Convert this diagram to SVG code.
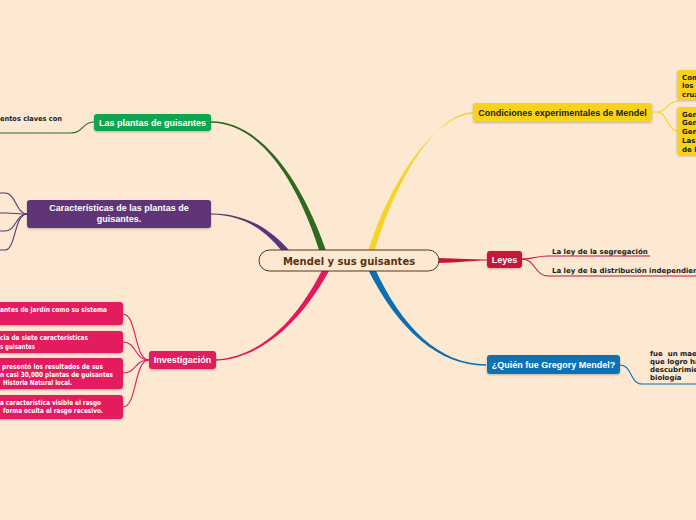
<svg xmlns="http://www.w3.org/2000/svg" width="696" height="520" viewBox="0 0 696 520">
<defs>
<filter id="sh" x="-10%" y="-20%" width="120%" height="160%"><feDropShadow dx="0" dy="1" stdDeviation="0.8" flood-color="#000" flood-opacity="0.25"/></filter>
<style>
.bg{fill:#fde8d1}
.node{filter:url(#sh)}
.lbl{font-family:"Liberation Sans",Arial,sans-serif;font-weight:bold;font-size:9px;fill:#fff;text-anchor:middle}
.dk{fill:#1c1c1c}
.sub{font-family:"DejaVu Sans",Verdana,sans-serif;font-weight:bold;font-size:7px;fill:#1a1a1a;white-space:pre}
.wt{fill:#fff}
.thin{fill:none;stroke-width:1.1}
</style>
</defs>
<rect class="bg" x="0" y="0" width="696" height="520"/>
<g id="connectors">
<path d="M211,121.3 C260,121 302,179 328,256 L321,256 C298,181 260,123 211,122.7 Z" fill="#2d6a1f"/>
<path d="M211,213.4 C245,213 272,228.8 293,255 L287,258 C268,231.2 245,215 211,214.6 Z" fill="#5c3477"/>
<path d="M216,359.3 C262,357 300,317 325,264 L331,267 C304,319 262,359 216,360.7 Z" fill="#e2195c"/>
<path d="M473,112.3 C440,112 397,172 373,257 L367,255 C393,171 440,114 473,113.7 Z" fill="#f6d327"/>
<path d="M486,364.3 C440,364 402,329 373,264.5 L367,267.5 C398,331 440,366 486,365.7 Z" fill="#0b6fb0"/>
<path d="M436,258 C460,258.5 475,259.5 487,259.5 L487,260.5 C475,260.5 460,262.5 436,263 Z" fill="#c8143a"/>
<path class="thin" stroke="#2d6a1f" d="M94,122 C82,122 84,133 70,133 L0,133"/>
<g class="thin" stroke="#5c3477">
<path d="M27,214 C16,214 16,193 5,193 L0,193"/>
<path d="M27,214 C16,214 16,213 5,213 L0,213"/>
<path d="M27,214 C16,214 16,231 5,231 L0,231"/>
<path d="M27,214 C14,214 16,250 5,250 L0,250"/>
</g>
<g class="thin" stroke="#e2195c">
<path d="M149,360 C134,360 137,314 123,314"/>
<path d="M149,360 C134,360 137,342 123,342"/>
<path d="M149,360 C134,360 137,373 123,373"/>
<path d="M149,360 C134,360 137,407 123,407"/>
</g>
<g class="thin" stroke="#f6d327">
<path d="M652,112 L657,112 C667,112 667,101 679,101"/>
<path d="M657,112 C667,112 667,131 679,131"/>
</g>
<g class="thin" stroke="#c8143a">
<path d="M522,259 C535,259 535,256 548,256 L650,256"/>
<path d="M522,259 C535,259 535,276 548,276 L696,276"/>
</g>
<path class="thin" stroke="#0b6fb0" d="M620,365 C632,365 630,384 642,384 L696,384"/>
</g>
<g id="center">
<rect x="259" y="250" width="180" height="21" rx="10.5" fill="#fde8d1" stroke="#5a3210" stroke-width="1"/>
<text x="349" y="264.5" font-family="DejaVu Sans, Verdana, sans-serif" font-weight="bold" font-size="10" fill="#5a3210" text-anchor="middle">Mendel y sus guisantes</text>
</g>
<g id="plantas">
<rect class="node" x="94" y="114" width="117" height="17" rx="3" fill="#08a54f"/>
<text class="lbl" x="152.5" y="125.5">Las plantas de guisantes</text>
<text class="sub" x="0" y="121" textLength="62" lengthAdjust="spacingAndGlyphs">entos claves con</text>
</g>
<g id="caracteristicas">
<rect class="node" x="27" y="200" width="184" height="28" rx="3" fill="#5e3578"/>
<text class="lbl" x="119" y="211">Características de las plantas de</text>
<text class="lbl" x="119" y="222">guisantes.</text>
</g>
<g id="investigacion">
<rect class="node" x="149" y="351" width="67" height="18" rx="3" fill="#e31c5f"/>
<text class="lbl" x="182.5" y="363">Investigación</text>
</g>
<g id="inv1">
<rect class="node" x="-10" y="302" width="133" height="23" rx="3" fill="#e31c5f"/>
<text class="sub wt" x="0" y="311.5" textLength="107" lengthAdjust="spacingAndGlyphs">antes de jardín como su sistema</text>
</g>
<g id="inv2">
<rect class="node" x="-10" y="331" width="133" height="22" rx="3" fill="#e31c5f"/>
<text class="sub wt" x="0" y="340" textLength="88" lengthAdjust="spacingAndGlyphs">cia de siete características</text>
<text class="sub wt" x="0" y="349" textLength="35" lengthAdjust="spacingAndGlyphs">s guisantes</text>
</g>
<g id="inv3">
<rect class="node" x="-10" y="358" width="133" height="31" rx="3" fill="#e31c5f"/>
<text class="sub wt" x="2" y="368.5" textLength="101" lengthAdjust="spacingAndGlyphs">presentó los resultados de sus</text>
<text class="sub wt" x="0" y="376.5" textLength="113" lengthAdjust="spacingAndGlyphs">n casi 30,000 plantas de guisantes</text>
<text class="sub wt" x="3" y="384.5" textLength="69" lengthAdjust="spacingAndGlyphs">Historia Natural local.</text>
</g>
<g id="inv4">
<rect class="node" x="-10" y="395" width="133" height="24" rx="3" fill="#e31c5f"/>
<text class="sub wt" x="0" y="405" textLength="101" lengthAdjust="spacingAndGlyphs">a característica visible el rasgo</text>
<text class="sub wt" x="3" y="413" textLength="100" lengthAdjust="spacingAndGlyphs">forma oculta el rasgo recesivo.</text>
</g>
<g id="condiciones">
<rect class="node" x="473" y="103" width="179" height="19" rx="3" fill="#f9d21e"/>
<text class="lbl dk" x="562.5" y="115.5">Condiciones experimentales de Mendel</text>
</g>
<g id="cond1">
<rect class="node" x="677" y="70" width="30" height="30" rx="3" fill="#f9d21e"/>
<text class="sub" x="682" y="79.5">Com</text>
<text class="sub" x="682" y="88">los </text>
<text class="sub" x="682" y="96.5">cruz</text>
</g>
<g id="cond2">
<rect class="node" x="677" y="107" width="30" height="48" rx="3" fill="#f9d21e"/>
<text class="sub" x="682" y="116.5">Gen</text>
<text class="sub" x="682" y="125">Gen</text>
<text class="sub" x="682" y="133.5">Gen</text>
<text class="sub" x="682" y="142.5">Las</text>
<text class="sub" x="682" y="151.5">de l</text>
</g>
<g id="leyes">
<rect class="node" x="487" y="251" width="35" height="17" rx="3" fill="#c8153a"/>
<text class="lbl" x="504.5" y="262.5">Leyes</text>
<text class="sub" x="552" y="253.5">La ley de la segregación</text>
<text class="sub" x="552" y="272.5">La ley de la distribución independien</text>
</g>
<g id="quien">
<rect class="node" x="487" y="355" width="133" height="19" rx="3" fill="#0c72b4"/>
<text class="lbl" x="553.5" y="368">¿Quién fue Gregory Mendel?</text>
<text class="sub" x="650" y="355.5">fue  un mae</text>
<text class="sub" x="650" y="363.5">que logro ha</text>
<text class="sub" x="650" y="371.5">descubrimie</text>
<text class="sub" x="650" y="380">biología</text>
</g>
</svg>
